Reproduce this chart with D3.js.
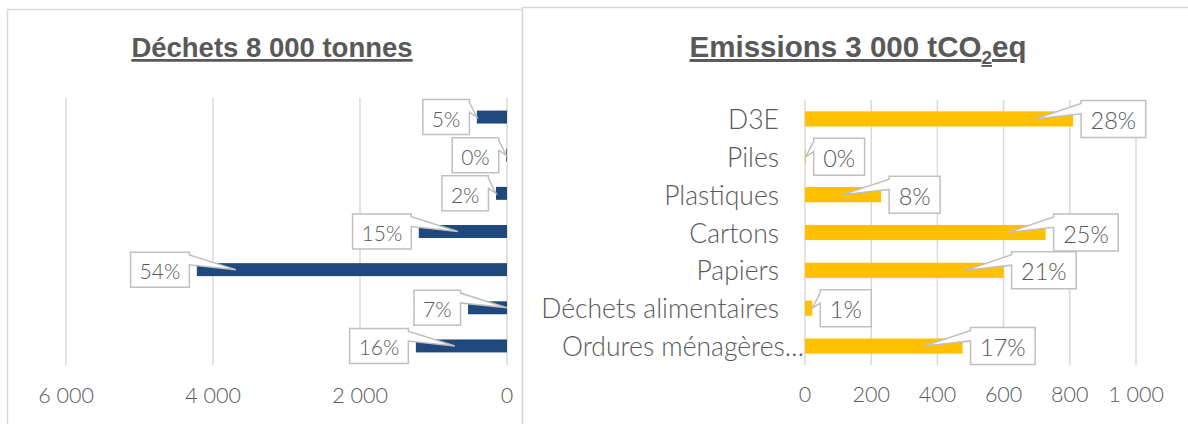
<!DOCTYPE html>
<html>
<head>
<meta charset="utf-8">
<script src="https://cdn.jsdelivr.net/npm/d3@7"></script>
<style>
  html, body { margin: 0; padding: 0; background: #fff; }
  svg { display: block; }
  text { font-family: Lato, "Open Sans", sans-serif; font-weight: 300; fill: #595959; }
  .title { font-family: "Liberation Sans", Arial, sans-serif; font-weight: bold; text-decoration: underline; }
</style>
</head>
<body>
<svg id="chart" width="1188" height="424"></svg>
<script>
// Categories, top to bottom
const categories = ["D3E", "Piles", "Plastiques", "Cartons", "Papiers", "Déchets alimentaires", "Ordures ménagères…"];
// Waste tonnage per stream (t)
const wasteTonnes = [410, 10, 150, 1200, 4220, 530, 1240];
// Emissions per stream (tCO2eq)
const emissionsTCO2 = [810, 2, 230, 727, 600, 22, 476];
// Axis ticks
const wasteTicks = [0, 2000, 4000, 6000];
const emissionTicks = [0, 200, 400, 600, 800, 1000];
// Panel titles
const wasteTitle = "Déchets 8 000 tonnes";
const emissionTitleParts = ["Emissions 3 000 tCO", "2", "eq"];

const svg = d3.select("#chart");
const fr = d3.formatLocale({ decimal: ",", thousands: "\u00a0", grouping: [3], currency: ["", " €"] });
const fmt = fr.format(",d");
const grid = "#d9d9d9";

// Panel frames
svg.append("rect").attr("x", 7.5).attr("y", 9.5).attr("width", 515).attr("height", 440)
  .attr("fill", "#fff").attr("stroke", grid).attr("stroke-width", 1.5);
svg.append("rect").attr("x", 522.5).attr("y", 7.5).attr("width", 690).attr("height", 440)
  .attr("fill", "#fff").attr("stroke", grid).attr("stroke-width", 1.5);

// Callout box with a wedge pointing at (tipX, tipY)
function callout(g, o) {
  const grp = g.append("g");
  const t = grp.append("text").text(o.text)
    .attr("font-size", o.fontSize).attr("dominant-baseline", "central");
  const tw = t.node().getComputedTextLength();
  const w = tw + 2 * o.pad, h = o.h;
  const T = o.cy - h / 2, B = o.cy + h / 2;
  let L, R, d;
  const y1 = T + 0.08 * h, y2 = T + 0.36 * h;
  if (o.side === "left") {
    R = o.x - o.gap; L = R - w;
    d = `M${L},${T}H${R}V${y1}L${o.tipX},${o.tipY}L${R},${y2}V${B}H${L}Z`;
  } else {
    L = o.x + o.gap; R = L + w;
    d = `M${L},${T}H${R}V${B}H${L}V${y2}L${o.tipX},${o.tipY}L${L},${y1}Z`;
  }
  grp.insert("path", "text").attr("d", d)
    .attr("fill", "#fff").attr("stroke", "#bfbfbf").attr("stroke-width", 1.5)
    .attr("stroke-linejoin", "miter");
  t.attr("x", (L + R) / 2).attr("y", o.cy + 1).attr("text-anchor", "middle");
}

const pct = (v, arr) => Math.round(v / d3.sum(arr) * 100) + "%";

// ---------- Left panel: waste tonnage (reversed axis) ----------
const xL = d3.scaleLinear().domain([0, 6000]).range([507, 66]);
const yL = d3.scaleBand().domain(categories).range([98, 365]).paddingInner(0.66).paddingOuter(0.33);
const gL = svg.append("g");

gL.append("text").attr("class", "title").attr("x", 272).attr("y", 57)
  .attr("text-anchor", "middle").attr("font-size", 27.5).text(wasteTitle);

gL.selectAll("line.grid").data(wasteTicks).join("line").attr("class", "grid")
  .attr("x1", d => xL(d)).attr("x2", d => xL(d)).attr("y1", 98).attr("y2", 365)
  .attr("stroke", grid).attr("stroke-width", 1.5);
gL.selectAll("text.tick").data(wasteTicks).join("text").attr("class", "tick")
  .attr("x", d => xL(d)).attr("y", 403).attr("text-anchor", "middle")
  .attr("font-size", 21.5).text(d => fmt(d));

gL.selectAll("rect.bar").data(wasteTonnes).join("rect").attr("class", "bar")
  .attr("x", d => xL(d)).attr("width", d => xL(0) - xL(d))
  .attr("y", (d, i) => yL(categories[i])).attr("height", yL.bandwidth())
  .attr("fill", "#1f497d");

wasteTonnes.forEach((v, i) => {
  const end = xL(v), len = xL(0) - end;
  const inset = len >= 35 ? Math.min(39, len) : 0;
  const cy = yL(categories[i]) + yL.bandwidth() / 2;
  callout(gL, { x: end, cy, side: "left", text: pct(v, wasteTonnes), fontSize: 21,
    pad: 9, h: 35, gap: 7.5, tipX: end + inset, tipY: cy });
});

// ---------- Right panel: emissions ----------
const xR = d3.scaleLinear().domain([0, 1000]).range([805, 1136]);
const yR = d3.scaleBand().domain(categories).range([100, 365]).paddingInner(0.6).paddingOuter(0.3);
const gR = svg.append("g");

const tt = gR.append("text").attr("class", "title").attr("x", 858).attr("y", 57)
  .attr("text-anchor", "middle").attr("font-size", 29.5);
tt.append("tspan").text(emissionTitleParts[0]);
tt.append("tspan").text(emissionTitleParts[1]).attr("font-size", 19).attr("dy", 7);
tt.append("tspan").text(emissionTitleParts[2]).attr("dy", -7);

gR.selectAll("line.grid").data(emissionTicks).join("line").attr("class", "grid")
  .attr("x1", d => xR(d)).attr("x2", d => xR(d)).attr("y1", 100).attr("y2", 365)
  .attr("stroke", grid).attr("stroke-width", 1.5);
gR.selectAll("text.tick").data(emissionTicks).join("text").attr("class", "tick")
  .attr("x", d => xR(d)).attr("y", 402).attr("text-anchor", "middle")
  .attr("font-size", 21.5).text(d => fmt(d));

gR.selectAll("rect.bar").data(emissionsTCO2).join("rect").attr("class", "bar")
  .attr("x", xR(0)).attr("width", d => xR(d) - xR(0))
  .attr("y", (d, i) => yR(categories[i])).attr("height", yR.bandwidth())
  .attr("fill", "#ffc000");

// Category labels, right-aligned against the value axis; truncated ones run up to it
gR.selectAll("text.cat").data(categories).join("text").attr("class", "cat")
  .attr("y", d => yR(d) + yR.bandwidth() / 2).attr("dominant-baseline", "central")
  .attr("text-anchor", "end").attr("font-size", 26.5).text(d => d)
  .attr("x", d => d.endsWith("…") ? xR(0) - 1 : xR(0) - 26);

emissionsTCO2.forEach((v, i) => {
  const end = xR(v), len = end - xR(0);
  const inset = len >= 35 ? Math.min(38, len) : 0;
  const cy = yR(categories[i]) + yR.bandwidth() / 2;
  callout(gR, { x: end, cy, side: "right", text: pct(v, emissionsTCO2), fontSize: 23.5,
    pad: 9.5, h: 37, gap: 8, tipX: end - inset, tipY: cy });
});
</script>
</body>
</html>
